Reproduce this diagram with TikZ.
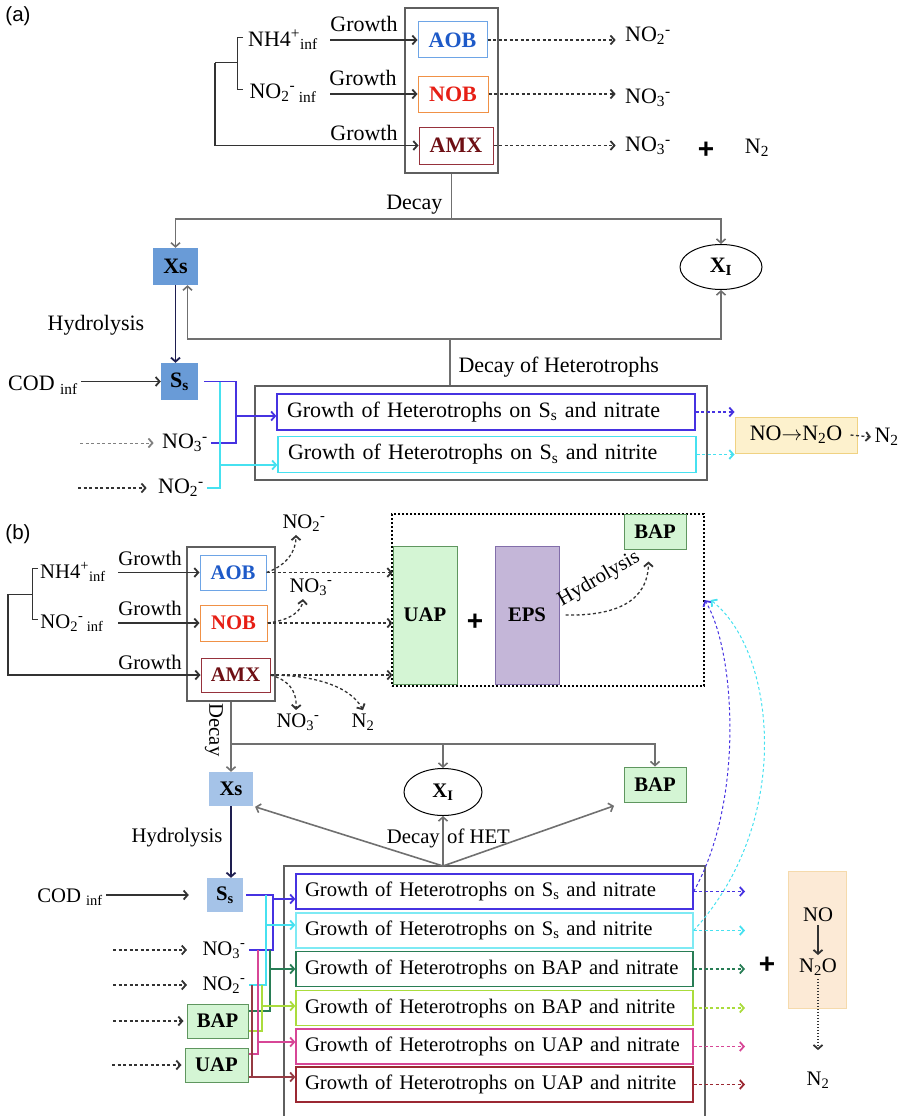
\documentclass[tikz,border=0pt]{standalone}
\usepackage{fontspec}
\setmainfont{Liberation Serif}
\newfontfamily\labelfont{Liberation Sans}
\usetikzlibrary{arrows.meta,shapes.geometric,positioning}

\definecolor{linegray}{RGB}{112,112,112}
\definecolor{framegray}{RGB}{95,95,95}
\definecolor{aobline}{RGB}{110,165,230}
\definecolor{aobtext}{RGB}{30,90,200}
\definecolor{nobline}{RGB}{240,145,70}
\definecolor{nobtext}{RGB}{230,30,20}
\definecolor{amxline}{RGB}{150,50,60}
\definecolor{amxtext}{RGB}{110,15,20}
\definecolor{xsdark}{RGB}{105,155,215}
\definecolor{xslight}{RGB}{165,195,232}
\definecolor{navy}{RGB}{30,30,80}
\definecolor{nitblue}{RGB}{70,50,225}
\definecolor{nitcyan}{RGB}{70,225,240}
\definecolor{noyfill}{RGB}{253,241,205}
\definecolor{noyline}{RGB}{240,210,130}
\definecolor{apfill}{RGB}{212,245,212}
\definecolor{apline}{RGB}{95,150,95}
\definecolor{epsfill}{RGB}{196,182,216}
\definecolor{epsline}{RGB}{130,110,170}
\definecolor{peachfill}{RGB}{252,234,214}
\definecolor{peachline}{RGB}{245,218,172}
\definecolor{hetgreen}{RGB}{40,125,85}
\definecolor{hetlime}{RGB}{170,220,60}
\definecolor{hetpink}{RGB}{215,70,150}
\definecolor{hetred}{RGB}{155,40,50}

\begin{document}
\begin{tikzpicture}[x=1pt,y=-1pt,
	every node/.style={font=\fontsize{22}{26}\selectfont},
	smallfont/.style={font=\fontsize{20.7}{24}\selectfont},
	bact/.style={draw, line width=1pt, inner sep=0pt, font=\fontsize{22}{26}\selectfont\bfseries},
	bactb/.style={bact, font=\fontsize{20.7}{24}\selectfont\bfseries},
	pool/.style={fill=xsdark, inner sep=0pt, font=\fontsize{22}{26}\selectfont\bfseries},
	apbox/.style={draw=apline, fill=apfill, line width=1pt, inner sep=0pt, font=\fontsize{20.7}{24}\selectfont\bfseries},
	hetbox/.style={draw, line width=1.3pt, align=left, inner xsep=10pt, inner ysep=0pt, text width=398pt, minimum height=36pt},
	hetboxb/.style={hetbox, inner xsep=9pt, text width=379pt, minimum height=35pt, font=\fontsize{20.7}{24}\selectfont},
	outerbox/.style={draw=framegray, line width=2.5pt, inner sep=0pt},
	bigplus/.style={font={\labelfont\bfseries\fontsize{28}{30}\selectfont}},
	conn/.style={draw=black!80, line width=1.3pt},
	connarrow/.style={conn, -{Straight Barb[length=4pt,width=9pt,line width=1.8pt]}},
	dotarrow/.style={connarrow, dash pattern=on 3pt off 2.5pt},
	grayline/.style={draw=linegray, line width=1.6pt},
	grayarrow/.style={grayline, -{Straight Barb[length=4pt,width=9pt,line width=1.6pt]}}]
	\useasboundingbox (0,0) rectangle (902,1116);

	% (a)
	\node[font={\labelfont\fontsize{20.5}{24}\selectfont}] (tagA) at (18,16) {(a)};
	\node[outerbox, minimum width=93pt, minimum height=165pt] (boxA) at (451.5,90.5) {};
	\node[bact, draw=aobline, text=aobtext, minimum width=69pt, minimum height=36pt] (aobA) at (452.5,40) {AOB};
	\node[bact, draw=nobline, text=nobtext, minimum width=70pt, minimum height=36pt] (nobA) at (453,94) {NOB};
	\node[bact, draw=amxline, text=amxtext, minimum width=74pt, minimum height=37pt] (amxA) at (456,145.5) {AMX};
	\node (nh4A) at (283,40) {NH4\textsuperscript{+}\textsubscript{inf}};
	\node (no2iA) at (283,93) {NO\textsubscript{2}\textsuperscript{-}\,\textsubscript{inf}};
	\node (gA1) at (364,24) {Growth};
	\node (gA2) at (363,78) {Growth};
	\node (gA3) at (364,133) {Growth};
	\coordinate (growA) at (330,0);
	\coordinate (brA) at (215,63);
	\draw[connarrow] (aobA.west -| growA) -- (aobA.west);
	\draw[connarrow] (nobA.west -| growA) -- (nobA.west);
	\draw[conn, line width=1pt] (243,38) -- (237,38) -- (237,89) -- (243,89);
	\draw[conn, line width=1pt] (237,63) -- (brA);
	\draw[connarrow] (brA) |- (amxA.west);
	\node (p1A) at (648,36) {NO\textsubscript{2}\textsuperscript{-}};
	\node (p2A) at (648,98) {NO\textsubscript{3}\textsuperscript{-}};
	\node (p3A) at (648,146) {NO\textsubscript{3}\textsuperscript{-}};
	\node[bigplus] (plusA) at (706,150) {+};
	\node (n2A) at (757,148) {N\textsubscript{2}};
	\draw[dotarrow, shorten >=6pt] (aobA.east) -- (aobA.east -| p1A.west);
	\draw[dotarrow, shorten >=6pt] (nobA.east) -- (nobA.east -| p2A.west);
	\draw[dotarrow, shorten >=6pt] (amxA.east) -- (amxA.east -| p3A.west);

	\node[pool, minimum width=45pt, minimum height=37pt] (xsA) at (175.5,266.5) {Xs};
	\node[draw, ellipse, line width=1pt, inner sep=0pt, minimum width=82pt, minimum height=45pt, font=\fontsize{22}{26}\selectfont\bfseries] (xiA) at (721,267) {X\textsubscript{I}};
	\node[pool, minimum width=37pt, minimum height=37pt] (ssA) at (179.5,381.5) {S\textsubscript{s}};
	\coordinate (dA) at (451.5,219);
	\draw[grayline] (boxA.south) -- (dA);
	\draw[grayarrow] (dA) -| (xsA.north);
	\draw[grayarrow] (dA) -| (xiA.north);
	\node[anchor=east] (decA) at (446,205) {Decay};
	\draw[connarrow, draw=navy] (xsA.south) -- (xsA.south |- ssA.north);
	\node (hydA) at (96,325) {Hydrolysis};
	\node (codA) at (43,385) {COD \textsubscript{inf}};
	\draw[connarrow] (codA.east |- ssA.west) -- (ssA.west);

	\node[outerbox, minimum width=452pt, minimum height=94pt] (hetA) at (481,433) {};
	\node[hetbox, draw=nitblue] (h1A) at (486,412) {Growth of Heterotrophs on S\textsubscript{s} and nitrate};
	\node[hetbox, draw=nitcyan] (h2A) at (487,454.5) {Growth of Heterotrophs on S\textsubscript{s} and nitrite};
	\coordinate (dhA) at (450,339);
	\draw[grayline] (dhA |- hetA.north) -- (dhA);
	\draw[grayarrow] (dhA) -| ([xshift=12pt]xsA.south);
	\draw[grayarrow] (dhA) -| (xiA.south);
	\node[anchor=west] (dhlA) at (455,367) {Decay of Heterotrophs};

	\node (no3A) at (185,443) {NO\textsubscript{3}\textsuperscript{-}};
	\node (no2A) at (181,488) {NO\textsubscript{2}\textsuperscript{-}};
	\coordinate (in1A) at (80,443);
	\coordinate (in2A) at (78,488);
	\draw[dotarrow, draw=gray, line width=1pt, shorten >=5pt] (in1A) -- (no3A.west);
	\draw[dotarrow, shorten >=8pt] (in2A) -- (no2A.west);
	\coordinate (jbA) at (236,416);
	\coordinate (jcA) at (220,465);
	\draw[conn, draw=nitblue] ([xshift=6pt]ssA.east) -| (jbA) |- (no3A.east);
	\draw[connarrow, draw=nitblue] (jbA) -- (jbA -| h1A.west);
	\draw[conn, draw=nitcyan] (jcA |- ssA.east) -- (jcA) |- (no2A.east);
	\draw[connarrow, draw=nitcyan] (jcA) -- (jcA -| h2A.west);

	\node[draw=noyline, fill=noyfill, line width=1pt, inner sep=0pt, minimum width=122pt, minimum height=36pt] (noA) at (796,435) {NO$\rightarrow$N\textsubscript{2}O};
	\draw[dotarrow, draw=nitblue] (h1A.east) -- (h1A.east -| noA.west);
	\draw[dotarrow, draw=nitcyan] (h2A.east) -- (h2A.east -| noA.west);
	\node[anchor=west] (n2A2) at (871,437) {N\textsubscript{2}};
	\draw[dotarrow] ([xshift=-7pt]noA.east) -- (n2A2.west);

	% (b)
	\node[font={\labelfont\fontsize{20.5}{24}\selectfont}] (tagB) at (18,534) {(b)};
	\node[outerbox, line width=2pt, minimum width=88pt, minimum height=154pt] (boxB) at (231,624) {};
	\node[bactb, draw=aobline, text=aobtext, minimum width=66pt, minimum height=35pt] (aobB) at (233,572.5) {AOB};
	\node[bactb, draw=nobline, text=nobtext, minimum width=67pt, minimum height=36pt] (nobB) at (233.5,623) {NOB};
	\node[bactb, draw=amxline, text=amxtext, minimum width=69pt, minimum height=34pt] (amxB) at (235.5,675) {AMX};
	\node[smallfont] (nh4B) at (73,572) {NH4\textsuperscript{+}\textsubscript{inf}};
	\node[smallfont] (no2iB) at (72,623) {NO\textsubscript{2}\textsuperscript{-}\,\textsubscript{inf}};
	\node[smallfont] (gB1) at (150,558) {Growth};
	\node[smallfont] (gB2) at (150,608) {Growth};
	\node[smallfont] (gB3) at (150,662) {Growth};
	\coordinate (growB) at (118,0);
	\coordinate (brB) at (8,594);
	\draw[connarrow] (aobB.west -| growB) -- (aobB.west);
	\draw[connarrow] (nobB.west -| growB) -- (nobB.west);
	\draw[conn, line width=1pt] (38,568) -- (32,568) -- (32,619) -- (38,619);
	\draw[conn, line width=1pt] (32,594) -- (brB);
	\draw[connarrow] (brB) |- (amxB.west);

	\node[draw, dash pattern=on 2pt off 2pt, line width=1.3pt, minimum width=312pt, minimum height=172pt] (mapB) at (548,600) {};
	\node[apbox, minimum width=64pt, minimum height=138pt] (uapB) at (425,615) {UAP};
	\node[bigplus] (plus1B) at (475,622) {+};
	\node[apbox, draw=epsline, fill=epsfill, minimum width=64pt, minimum height=138pt] (epsB) at (527,615) {EPS};
	\node[apbox, minimum width=62pt, minimum height=35pt] (bapB1) at (655,531.5) {BAP};
	\draw[dotarrow] ([xshift=6pt]epsB.east) .. controls (615,616) and (648,602) .. ([xshift=25pt,yshift=-12pt]bapB1.south west);
	\node[smallfont, rotate=30, inner sep=1pt] (hydB1) at (599,579) {Hydrolysis};
	\draw[dotarrow] (aobB.east) -- (aobB.east -| uapB.west);
	\draw[dotarrow] (nobB.east) -- (nobB.east -| uapB.west);
	\draw[dotarrow] (amxB.east) -- (amxB.east -| uapB.west);

	\node[smallfont] (p1B) at (304,523) {NO\textsubscript{2}\textsuperscript{-}};
	\node[smallfont] (p2B) at (311,587) {NO\textsubscript{3}\textsuperscript{-}};
	\node[smallfont] (p3B) at (298,722) {NO\textsubscript{3}\textsuperscript{-}};
	\node[smallfont] (p4B) at (363,722) {N\textsubscript{2}};
	\draw[dotarrow] (aobB.east) .. controls (288,565) and (296,550) .. ([xshift=-8pt]p1B.south);
	\draw[dotarrow] (nobB.east) .. controls (292,620) and (302,610) .. ([xshift=-8pt]p2B.south);
	\draw[dotarrow] (amxB.east) .. controls (288,680) and (297,690) .. ([xshift=-2pt]p3B.north);
	\draw[dotarrow] (amxB.east) .. controls (310,675) and (350,685) .. (p4B.north);

	\node[pool, fill=xslight, minimum width=44pt, minimum height=34pt, font=\fontsize{20.7}{24}\selectfont\bfseries] (xsB) at (231,789) {Xs};
	\node[draw, ellipse, line width=1pt, inner sep=0pt, minimum width=78pt, minimum height=47pt, font=\fontsize{20.7}{24}\selectfont\bfseries] (xiB) at (443,792) {X\textsubscript{I}};
	\node[apbox, minimum width=62pt, minimum height=35pt] (bapB2) at (655,784.5) {BAP};
	\coordinate (dB) at (231,744);
	\draw[grayarrow] (boxB.south) -- (xsB.north);
	\draw[grayarrow] (dB) -| (bapB2.north);
	\draw[grayarrow] (dB -| xiB.north) -- (xiB.north);
	\node[smallfont, rotate=-90] (decB) at (214,730) {Decay};

	\node[outerbox, line width=2pt, minimum width=421pt, minimum height=260pt] (hetB) at (494.5,996) {};
	\node[hetboxb, draw=nitblue] (h1B) at (494.5,891.5) {Growth of Heterotrophs on S\textsubscript{s} and nitrate};
	\node[hetboxb, draw=nitcyan!70] (h2B) at (494.5,930.5) {Growth of Heterotrophs on S\textsubscript{s} and nitrite};
	\node[hetboxb, draw=hetgreen] (h3B) at (494.5,969) {Growth of Heterotrophs on BAP and nitrate};
	\node[hetboxb, draw=hetlime] (h4B) at (494.5,1008) {Growth of Heterotrophs on BAP and nitrite};
	\node[hetboxb, draw=hetpink] (h5B) at (494.5,1046.5) {Growth of Heterotrophs on UAP and nitrate};
	\node[hetboxb, draw=hetred] (h6B) at (494.5,1084.5) {Growth of Heterotrophs on UAP and nitrite};
	\coordinate (dhB) at (443,866);
	\draw[grayarrow, shorten >=2pt] (dhB) -- (xsB.south east);
	\draw[grayarrow] (dhB) -- (xiB.south);
	\draw[grayarrow, shorten >=10pt] (dhB) -- (bapB2.south west);
	\node[smallfont, anchor=base east, inner sep=0pt] (dhlB1) at (440,843) {Decay};
	\node[smallfont, anchor=base west, inner sep=0pt] (dhlB2) at (447,843) {of HET};

	\node[pool, fill=xslight, minimum width=36pt, minimum height=34pt, font=\fontsize{20.7}{24}\selectfont\bfseries] (ssB) at (225,895) {S\textsubscript{s}};
	\draw[connarrow, draw=navy] (xsB.south) -- (xsB.south |- ssB.north);
	\node[smallfont] (hydB) at (177,838) {Hydrolysis};
	\node[smallfont] (codB) at (70,897) {COD \textsubscript{inf}};
	\draw[connarrow, shorten >=18pt] (codB.east |- ssB.west) -- (ssB.west);

	\node[smallfont] (no3B) at (224,950) {NO\textsubscript{3}\textsuperscript{-}};
	\node[smallfont] (no2B) at (224,985) {NO\textsubscript{2}\textsuperscript{-}};
	\node[apbox, minimum width=61pt, minimum height=34pt] (bapB3) at (217.5,1021) {BAP};
	\node[apbox, minimum width=63pt, minimum height=34pt] (uapB2) at (216.5,1065) {UAP};
	\coordinate (in1B) at (113,950);
	\coordinate (in2B) at (113,985);
	\coordinate (in3B) at (113,1021);
	\coordinate (in4B) at (112,1065);
	\draw[dotarrow, shorten >=12pt] (in1B) -- (no3B.west);
	\draw[dotarrow, shorten >=12pt] (in2B) -- (no2B.west);
	\draw[dotarrow, shorten >=3pt] (in3B) -- (bapB3.west);
	\draw[dotarrow, shorten >=3pt] (in4B) -- (uapB2.west);

	% substrate and electron acceptor links
	\coordinate (jbB) at (273,899);
	\coordinate (jcB) at (266,925);
	\coordinate (jgB) at (270,969);
	\coordinate (jyB) at (262,1006);
	\coordinate (jpB) at (258,1042);
	\coordinate (jrB) at (252,1077);
	\draw[conn, line width=1.1pt, draw=nitblue] ([xshift=3pt]ssB.east) -| (jbB) |- (no3B.east);
	\draw[connarrow, line width=1.1pt, draw=nitblue] (jbB) -- (jbB -| h1B.west);
	\draw[conn, line width=1.1pt, draw=nitcyan] (jcB |- ssB.east) -- (jcB) |- (no2B.east);
	\draw[connarrow, line width=1.1pt, draw=nitcyan] (jcB) -- (jcB -| h2B.west);
	\draw[conn, line width=1.1pt, draw=hetgreen] (jgB |- no3B.east) -- (jgB) |- ([yshift=10pt]bapB3.east);
	\draw[connarrow, line width=1.1pt, draw=hetgreen] (jgB) -- (jgB -| h3B.west);
	\draw[conn, line width=1.1pt, draw=hetlime] (jyB |- no2B.east) -- (jyB) |- ([yshift=-10pt]bapB3.east);
	\draw[connarrow, line width=1.1pt, draw=hetlime] (jyB) -- (jyB -| h4B.west);
	\draw[conn, line width=1.1pt, draw=hetpink] (jpB |- no3B.east) -- (jpB) |- ([yshift=11pt]uapB2.east);
	\draw[connarrow, line width=1.1pt, draw=hetpink] (jpB) -- (jpB -| h5B.west);
	\draw[conn, line width=1.1pt, draw=hetred!80!gray] (jrB |- no2B.east) -- (jrB);
	\draw[connarrow, line width=1.1pt, draw=hetred!80!gray] ([yshift=-12pt]uapB2.east) -- (jrB -| h6B.west);

	\coordinate (outB) at (745,0);
	\draw[dotarrow, draw=nitblue] (h1B.east) -- (h1B.east -| outB);
	\draw[dotarrow, draw=nitcyan] (h2B.east) -- (h2B.east -| outB);
	\draw[dotarrow, draw=hetgreen] (h3B.east) -- (h3B.east -| outB);
	\draw[dotarrow, draw=hetlime] (h4B.east) -- (h4B.east -| outB);
	\draw[dotarrow, draw=hetpink] (h5B.east) -- (h5B.east -| outB);
	\draw[dotarrow, draw=hetred] (h6B.east) -- (h6B.east -| outB);
	\draw[dotarrow, draw=nitblue, line width=1pt] (h1B.east) .. controls (745,800) and (735,650) .. (mapB.east);
	\draw[dotarrow, draw=nitcyan, line width=1pt] (h2B.east) .. controls (795,820) and (775,650) .. ([xshift=6pt]mapB.east);

	\node[bigplus] (plus2B) at (767,965) {+};
	\node[draw=peachline, fill=peachfill, line width=1pt, minimum width=58pt, minimum height=137pt] (noB) at (817,939.5) {};
	\node[smallfont] (noB1) at (818,915) {NO};
	\node[smallfont] (n2oB) at (818,967) {N\textsubscript{2}O};
	\draw[connarrow] (noB1.south) -- (n2oB.north);
	\node[smallfont] (n2B) at (818,1080) {N\textsubscript{2}};
	\draw[dotarrow, dash pattern=on 1.5pt off 1.5pt, shorten >=18pt] (n2oB.south) -- (n2B.north);
\end{tikzpicture}
\end{document}
